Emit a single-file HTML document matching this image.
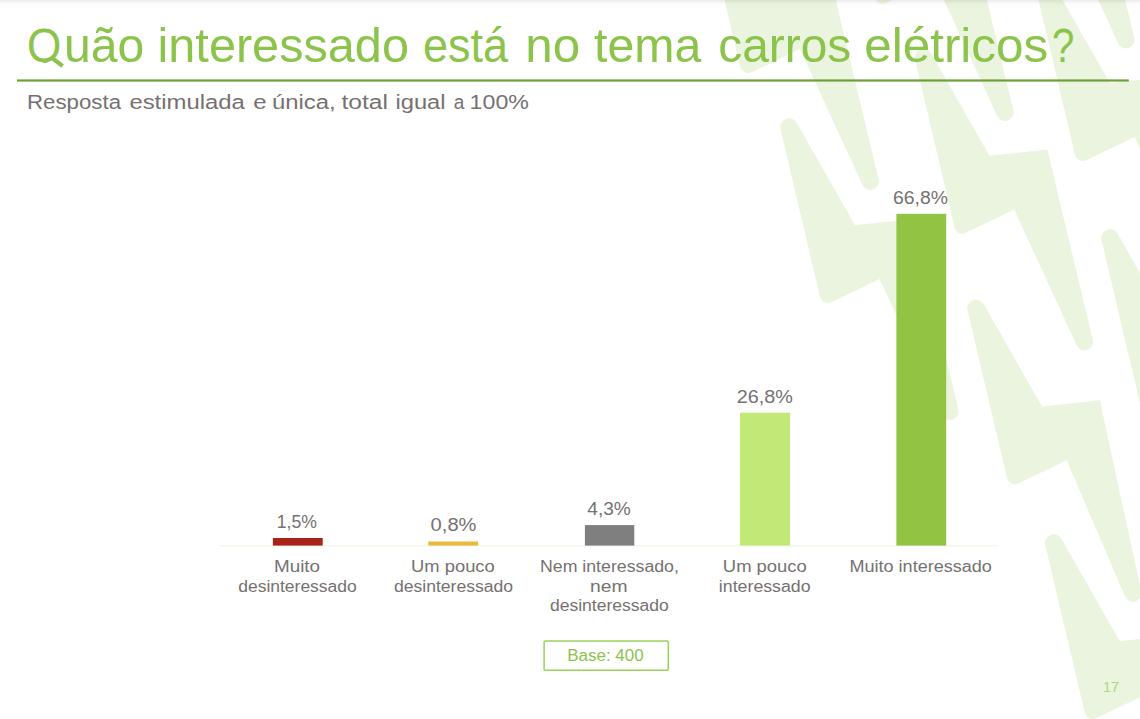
<!DOCTYPE html>
<html lang="pt">
<head>
<meta charset="utf-8">
<title>Quão interessado está no tema carros elétricos?</title>
<style>
html,body{margin:0;padding:0;background:#fff;}
body{width:1140px;height:719px;overflow:hidden;font-family:"Liberation Sans",sans-serif;}
svg{display:block;}
svg text{font-family:"Liberation Sans",sans-serif;}
</style>
</head>
<body>
<svg width="1140" height="719" viewBox="0 0 1140 719">
<defs>
<linearGradient id="topshade" x1="0" y1="0" x2="0" y2="1">
<stop offset="0" stop-color="#000" stop-opacity="0.075"/>
<stop offset="0.5" stop-color="#000" stop-opacity="0.02"/>
<stop offset="1" stop-color="#000" stop-opacity="0"/>
</linearGradient>
<path id="bolt" d="M-8.5,2 A8.75,8.75 0 0 1 7.6,-4.3 L66,98.3 L123.8,92 L169.27,282.53 A8.5,8.5 0 0 1 153.28,288.05 L90.7,152 L42.2,175.2 A8,8 0 0 1 31.0,169.8 Z"/>
<clipPath id="qclip"><rect x="20" y="20" width="50" height="42.9"/></clipPath>
</defs>
<rect x="0" y="0" width="1140" height="719" fill="#ffffff"/>

<g fill="#ebf4de">
<use href="#bolt" x="709.3" y="-103"/>
<use href="#bolt" x="789" y="127"/>
<use href="#bolt" x="844" y="-172"/>
<use href="#bolt" x="923.5" y="57.5"/>
<use href="#bolt" x="965" y="-244.5"/>
<use href="#bolt" x="1044" y="-15"/>
<path transform="translate(976,308.3)" d="M-8.5,2 A8.75,8.75 0 0 1 7.6,-4.3 L66,98.3 L123.8,92 L165.31,283.20 A8.5,8.5 0 0 1 149.19,288.35 L90.7,152 L42.2,175.2 A8,8 0 0 1 31.0,169.8 Z"/>
<use href="#bolt" x="1110" y="238"/>
<use href="#bolt" x="1053.75" y="543"/>
</g>
<rect x="0" y="0" width="1140" height="7" fill="url(#topshade)"/>
<rect x="17" y="79.4" width="1111.8" height="2.2" fill="#6f9f3a"/>
<rect x="219.8" y="545.4" width="778.8" height="1" fill="#edf4e0"/>
<rect x="272.9" y="538" width="49.8" height="7.6" fill="#a92318"/>
<rect x="428.3" y="541.5" width="49.8" height="4.1" fill="#e9b93b"/>
<rect x="584.9" y="525.1" width="49.4" height="20.5" fill="#7f7f7f"/>
<rect x="740" y="412.7" width="50.1" height="132.9" fill="#c2e977"/>
<rect x="896.4" y="213.8" width="49.8" height="331.8" fill="#93c343"/>
<rect x="544.1" y="641.1" width="124.2" height="29.1" rx="1.2" fill="#ffffff" stroke="#9ad25a" stroke-width="1.5"/>
<g clip-path="url(#qclip)"><text x="26.99" y="61.8" font-size="49" fill="#8cc34b" textLength="34.41" lengthAdjust="spacingAndGlyphs">Q</text></g><path d="M52.2,58.2 L62.6,66.0" stroke="#8cc34b" stroke-width="4.1" fill="none"/>
<text x="63.95" y="61.8" font-size="49" fill="#8cc34b" textLength="80.27" lengthAdjust="spacingAndGlyphs">uão</text>
<text x="157.52" y="61.8" font-size="49" fill="#8cc34b" textLength="251.42" lengthAdjust="spacingAndGlyphs">interessado</text>
<text x="422.96" y="61.8" font-size="49" fill="#8cc34b" textLength="85.25" lengthAdjust="spacingAndGlyphs">está</text>
<text x="525.28" y="61.8" font-size="49" fill="#8cc34b" textLength="54.88" lengthAdjust="spacingAndGlyphs">no</text>
<text x="594.00" y="61.8" font-size="49" fill="#8cc34b" textLength="107.36" lengthAdjust="spacingAndGlyphs">tema</text>
<text x="718.25" y="61.8" font-size="49" fill="#8cc34b" textLength="132.92" lengthAdjust="spacingAndGlyphs">carros</text>
<text x="864.18" y="61.8" font-size="49" fill="#8cc34b" textLength="184.13" lengthAdjust="spacingAndGlyphs">elétricos</text>
<text x="1051.96" y="61.8" font-size="49" fill="#8cc34b" textLength="22.37" lengthAdjust="spacingAndGlyphs">?</text>
<text x="27.06" y="108.5" font-size="19.6" fill="#767171" textLength="94.02" lengthAdjust="spacingAndGlyphs">Resposta</text>
<text x="129.40" y="108.5" font-size="19.6" fill="#767171" textLength="115.47" lengthAdjust="spacingAndGlyphs">estimulada</text>
<text x="253.30" y="108.5" font-size="19.6" fill="#767171" textLength="13.37" lengthAdjust="spacingAndGlyphs">e</text>
<text x="271.98" y="108.5" font-size="19.6" fill="#767171" textLength="63.78" lengthAdjust="spacingAndGlyphs">única,</text>
<text x="341.40" y="108.5" font-size="19.6" fill="#767171" textLength="46.54" lengthAdjust="spacingAndGlyphs">total</text>
<text x="395.49" y="108.5" font-size="19.6" fill="#767171" textLength="50.04" lengthAdjust="spacingAndGlyphs">igual</text>
<text x="453.80" y="108.5" font-size="19.6" fill="#767171" textLength="10.60" lengthAdjust="spacingAndGlyphs">a</text>
<text x="469.62" y="108.5" font-size="19.6" fill="#767171" textLength="59.28" lengthAdjust="spacingAndGlyphs">100%</text>
<text x="276.78" y="528.0" font-size="19.1" fill="#767171" textLength="40.20" lengthAdjust="spacingAndGlyphs">1,5%</text>
<text x="430.60" y="531.3" font-size="19.1" fill="#767171" textLength="45.88" lengthAdjust="spacingAndGlyphs">0,8%</text>
<text x="587.30" y="515.1" font-size="19.1" fill="#767171" textLength="43.58" lengthAdjust="spacingAndGlyphs">4,3%</text>
<text x="736.70" y="403.4" font-size="19.1" fill="#767171" textLength="56.08" lengthAdjust="spacingAndGlyphs">26,8%</text>
<text x="893.00" y="203.8" font-size="19.1" fill="#767171" textLength="54.98" lengthAdjust="spacingAndGlyphs">66,8%</text>
<text x="274.02" y="572.0" font-size="16" fill="#767171" textLength="46.06" lengthAdjust="spacingAndGlyphs">Muito</text>
<text x="238.20" y="591.9" font-size="16" fill="#767171" textLength="118.59" lengthAdjust="spacingAndGlyphs">desinteressado</text>
<text x="411.05" y="572.0" font-size="16" fill="#767171" textLength="83.73" lengthAdjust="spacingAndGlyphs">Um pouco</text>
<text x="393.90" y="591.9" font-size="16" fill="#767171" textLength="119.19" lengthAdjust="spacingAndGlyphs">desinteressado</text>
<text x="539.99" y="571.9" font-size="16" fill="#767171" textLength="138.90" lengthAdjust="spacingAndGlyphs">Nem interessado,</text>
<text x="590.10" y="591.7" font-size="16" fill="#767171" textLength="37.50" lengthAdjust="spacingAndGlyphs">nem</text>
<text x="550.00" y="611.0" font-size="16" fill="#767171" textLength="118.69" lengthAdjust="spacingAndGlyphs">desinteressado</text>
<text x="722.85" y="571.9" font-size="16" fill="#767171" textLength="83.93" lengthAdjust="spacingAndGlyphs">Um pouco</text>
<text x="718.89" y="591.9" font-size="16" fill="#767171" textLength="91.70" lengthAdjust="spacingAndGlyphs">interessado</text>
<text x="849.47" y="571.9" font-size="16" fill="#767171" textLength="142.41" lengthAdjust="spacingAndGlyphs">Muito interessado</text>
<text x="567.21" y="660.8" font-size="15.6" fill="#8cc34b" textLength="76.53" lengthAdjust="spacingAndGlyphs">Base: 400</text>
<text x="1103.00" y="692.3" font-size="14.5" fill="#b1d683" textLength="16.06" lengthAdjust="spacingAndGlyphs">17</text>
</svg>
</body>
</html>
